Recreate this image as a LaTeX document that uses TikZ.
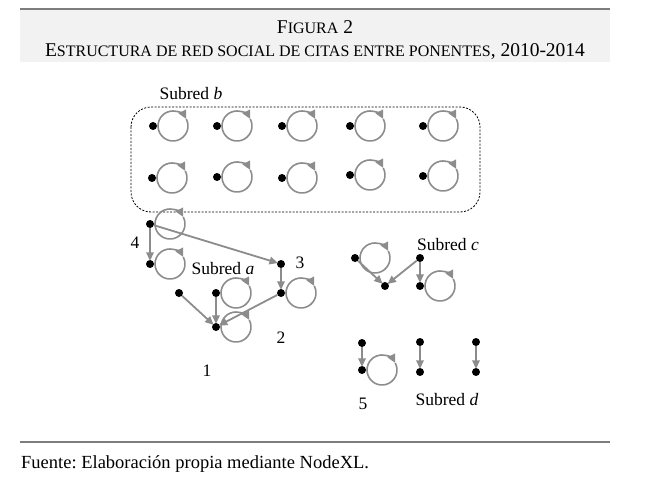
\documentclass[tikz,border=0pt]{standalone}
\usepackage{fontspec}
\setmainfont{Liberation Serif}
\usetikzlibrary{arrows.meta,calc}
\frenchspacing
\definecolor{edgegray}{RGB}{140,140,140}
\definecolor{bandgray}{RGB}{242,242,242}
\definecolor{rulegray}{RGB}{125,125,125}
\newcommand\smc[1]{{\fontsize{16pt}{17pt}\selectfont #1}}
\newcommand\selfloop[1]{%
  \draw[loopline,-{Triangle[length=8.5pt,width=8pt]}] ($(#1)+(5,0)$) arc[start angle=180,end angle=28,radius=15];
  \draw[loopline] ($(#1)+(20,0)+(28:15)$) arc[start angle=28,end angle=-180,radius=15];}
\begin{document}
\begin{tikzpicture}[x=1pt,y=1pt,
  dot/.style={circle,fill=black,inner sep=0pt,minimum size=8pt},
  edge/.style={draw=edgegray,line width=1.8pt,-{Triangle[length=8.5pt,width=7.5pt]},shorten >=-1pt},
  loopline/.style={draw=edgegray,line width=1.6pt},
  lbl/.style={font=\fontsize{17.5pt}{19pt}\selectfont,inner sep=0pt},
  title/.style={font=\fontsize{19.5pt}{21pt}\selectfont,inner sep=0pt}]
\useasboundingbox (0,0) rectangle (661,-481);
% header
\fill[bandgray] (20,-9) rectangle (610,-62);
\draw[rulegray,line width=2pt] (20,-9) -- (610,-9);
\node[title] (t1) at (315,-27) {F\smc{IGURA} 2};
\node[title] (t2) at (315,-52) {E\smc{STRUCTURA DE RED SOCIAL DE CITAS ENTRE PONENTES}, 2010-2014};
% footer
\draw[rulegray,line width=2pt] (20,-441.5) -- (610,-441.5);
\node[lbl,font=\fontsize{18.5pt}{20pt}\selectfont,anchor=west] (src) at (21,-464) {Fuente: Elaboración propia mediante NodeXL.};
% subred b box
\draw[line width=0.8pt,dash pattern=on 2pt off 1.5pt,rounded corners=20pt] (131,-107) rectangle (480,-212);
\node[lbl] (lb) at (191,-94) {Subred \textit{b}};
% subred b nodes
\foreach \i/\x/\y in {1/153/126,2/217/126,3/282/126,4/350/126,5/423/126,
                      6/152/178,7/217/177,8/282/178,9/350/175,10/423/176}{
  \node[dot] (b\i) at (\x,-\y) {};
  \selfloop{b\i}
}
% subred a
\node[dot] (a4t) at (150,-224) {};
\node[dot] (a4b) at (150,-264) {};
\node[dot] (a3) at (281,-264) {};
\node[dot] (a2) at (281,-293) {};
\node[dot] (a1) at (216,-327) {};
\node[dot] (a5) at (179,-293) {};
\node[dot] (a6) at (216,-293) {};
\selfloop{a4t}
\selfloop{a4b}
\selfloop{a2}
\selfloop{a1}
\selfloop{a6}
\draw[edge] (a4t) -- (a4b);
\draw[edge] (a4t) -- (a3);
\draw[edge] (a3) -- (a2);
\draw[edge] (a2) -- (a1);
\draw[edge] (a5) -- (a1);
\draw[edge] (a6) -- (a1);
\node[lbl] (l4) at (135,-243) {4};
\node[lbl] (la) at (223,-269) {Subred \textit{a}};
\node[lbl] (l3) at (300,-263) {3};
\node[lbl] (l2) at (281,-338) {2};
\node[lbl] (l1) at (207,-371) {1};
% subred c
\node[dot] (c1) at (355,-258) {};
\node[dot] (c2) at (385,-286) {};
\node[dot] (c3) at (420,-258) {};
\node[dot] (c4) at (420,-286) {};
\selfloop{c1}
\selfloop{c4}
\draw[edge] (c1) -- (c2);
\draw[edge] (c3) -- (c2);
\draw[edge] (c3) -- (c4);
\node[lbl] (lc) at (448,-245) {Subred \textit{c}};
% subred d
\node[dot] (d1) at (362,-343) {};
\node[dot] (d2) at (362,-370) {};
\node[dot] (d3) at (420,-342) {};
\node[dot] (d4) at (420,-372) {};
\node[dot] (d5) at (476,-342) {};
\node[dot] (d6) at (476,-372) {};
\selfloop{d2}
\draw[edge] (d1) -- (d2);
\draw[edge] (d3) -- (d4);
\draw[edge] (d5) -- (d6);
\node[lbl] (l5) at (363,-404) {5};
\node[lbl] (ld) at (447,-400) {Subred \textit{d}};
\end{tikzpicture}
\end{document}
